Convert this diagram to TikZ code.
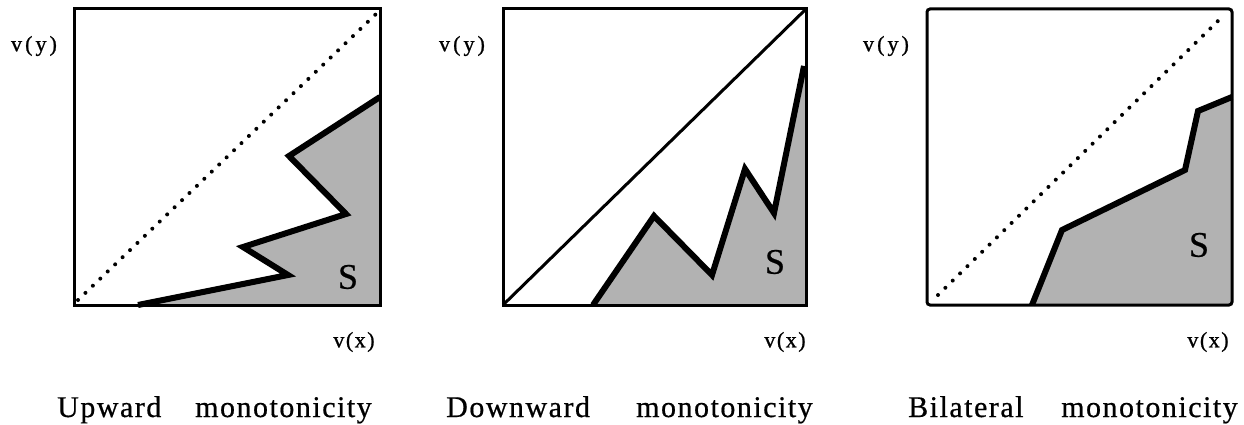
\documentclass[tikz,border=0pt]{standalone}
\usepackage{fontspec}
\setmainfont{Liberation Serif}
\newfontfamily\capfont[LetterSpace=5,FakeBold=0.6]{Liberation Serif}
\newfontfamily\axfont[LetterSpace=14,FakeBold=1]{Liberation Serif}
\newfontfamily\axxfont[LetterSpace=7,FakeBold=1]{Liberation Serif}
\newfontfamily\sfont[FakeBold=0.5]{Liberation Serif}
\begin{document}
\begin{tikzpicture}[x=1pt,y=-1pt,
  frame/.style={draw=black, line width=3pt},
  region/.style={fill=black!30},
  boundary/.style={draw=black, line width=6pt, line join=miter, miter limit=4},
  dotdiag/.style={draw=black, line width=4pt, line cap=round, dash pattern=on 0pt off 10.3pt},
  soliddiag/.style={draw=black, line width=3pt},
  aylabel/.style={font=\axfont\fontsize{22}{22}\selectfont, inner sep=0pt},
  axlabel/.style={font=\axxfont\fontsize{22}{22}\selectfont, inner sep=0pt},
  slabel/.style={font=\sfont\fontsize{36}{36}\selectfont, inner sep=0pt},
  capword/.style={font=\capfont\fontsize{30}{30}\selectfont, inner sep=0pt, anchor=base west}]
\useasboundingbox (0,0) rectangle (1244,425);

% ---------- Panel 1: Upward monotonicity ----------
\path[region] (138,305) -- (288,275) -- (243,247) -- (346,214) -- (289,156) -- (380,97) -- (380,305) -- cycle;
\draw[frame] (74,9) rectangle (380,305);
\draw[dotdiag] (78,300) -- (376,14);
\draw[boundary] (138,305) -- (288,275) -- (243,247) -- (346,214) -- (289,156) -- (380,97);
\node[slabel] (s1) at (348,277) {S};
\node[aylabel] (vy1) at (34,46) {v(y)};
\node[axlabel] (vx1) at (354,342) {v(x)};
\node[capword] (c1a) at (57,417) {Upward};
\node[capword] (c1b) at (195,417) {monotonicity};

% ---------- Panel 2: Downward monotonicity ----------
\path[region] (593,305) -- (654,216) -- (712,275) -- (745,169) -- (774,213) -- (804,66) -- (806,66) -- (806,305) -- cycle;
\draw[frame] (503,9) rectangle (806,305);
\draw[soliddiag] (503,305) -- (806,9);
\draw[boundary] (593,305) -- (654,216) -- (712,275) -- (745,169) -- (774,213) -- (804,66);
\node[slabel] (s2) at (775,262) {S};
\node[aylabel] (vy2) at (462,46) {v(y)};
\node[axlabel] (vx2) at (785,342) {v(x)};
\node[capword] (c2a) at (446,417) {Downward};
\node[capword] (c2b) at (636,417) {monotonicity};

% ---------- Panel 3: Bilateral monotonicity ----------
\path[region] (1032,305) -- (1062,230) -- (1185,170) -- (1198,111) -- (1232,97) -- (1232,305) -- cycle;
\draw[frame, rounded corners=3pt] (927,9) rectangle (1232,305);
\draw[dotdiag] (938,295) -- (1220,19);
\draw[boundary] (1032,305) -- (1062,230) -- (1185,170) -- (1198,111) -- (1232,97);
\node[slabel] (s3) at (1199,245) {S};
\node[aylabel] (vy3) at (886,46) {v(y)};
\node[axlabel] (vx3) at (1208,342) {v(x)};
\node[capword] (c3a) at (908,417) {Bilateral};
\node[capword] (c3b) at (1061,417) {monotonicity};
\end{tikzpicture}
\end{document}
